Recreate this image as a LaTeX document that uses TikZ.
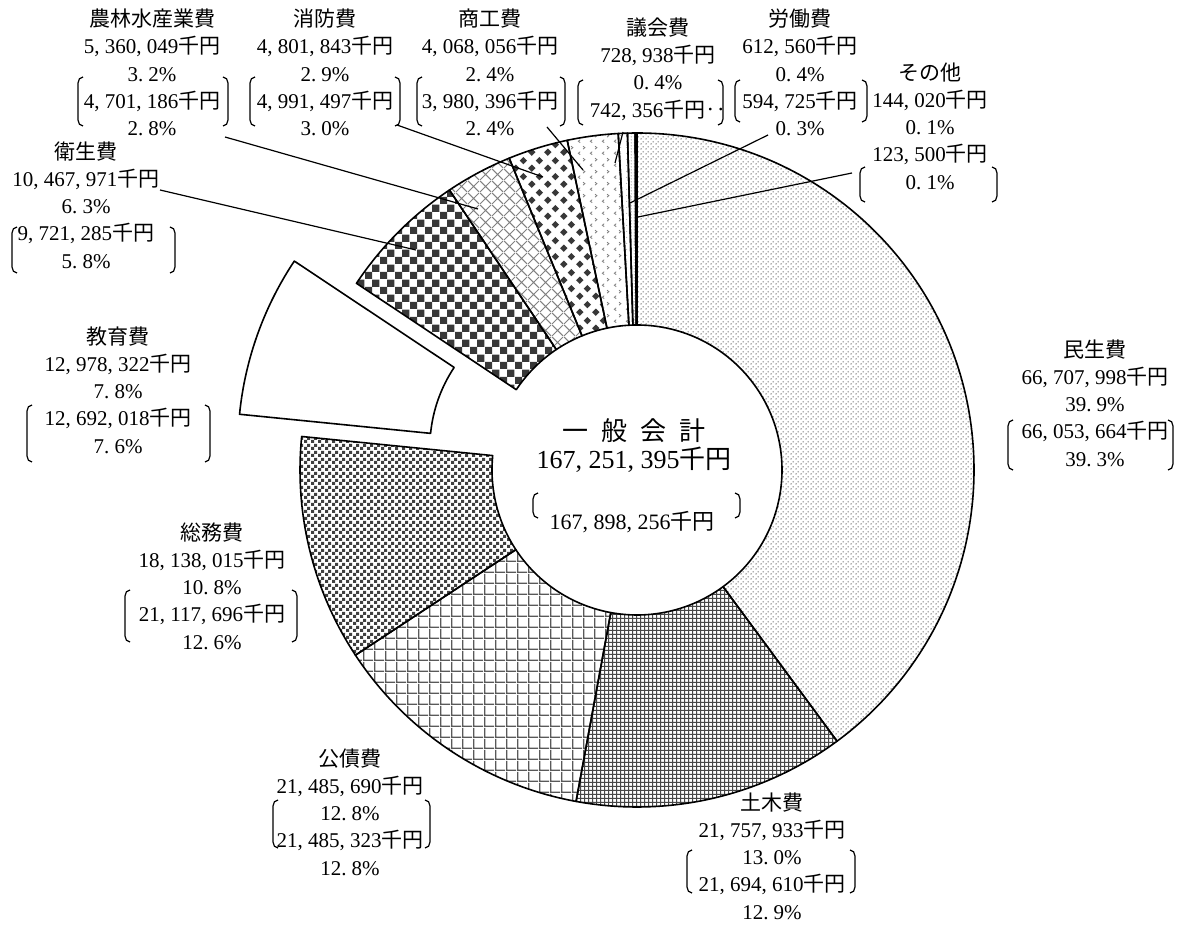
\documentclass[tikz,border=0pt]{standalone}
\usepackage{fontspec}
\setmainfont{Liberation Serif}
\newfontfamily\jp{Noto Sans CJK JP}
\usetikzlibrary{patterns}
\frenchspacing
\newcommand{\J}[1]{{\jp #1}}
% ---- patterns ----
\pgfdeclarepatternformonly{pminsei}{\pgfqpoint{0pt}{0pt}}{\pgfqpoint{5pt}{5pt}}{\pgfqpoint{5pt}{5pt}}{%
 \pgfpathcircle{\pgfqpoint{1.25pt}{1.25pt}}{0.85pt}%
 \pgfpathcircle{\pgfqpoint{3.75pt}{3.75pt}}{0.85pt}%
 \pgfusepath{fill}}
\pgfdeclarepatternformonly{pdoboku}{\pgfqpoint{0pt}{0pt}}{\pgfqpoint{4.4pt}{4.4pt}}{\pgfqpoint{4.4pt}{4.4pt}}{%
 \pgfpathrectangle{\pgfqpoint{0pt}{0pt}}{\pgfqpoint{4.4pt}{1.3pt}}%
 \pgfpathrectangle{\pgfqpoint{0pt}{0pt}}{\pgfqpoint{1.3pt}{4.4pt}}%
 \pgfusepath{fill}}
\pgfdeclarepatternformonly{pkousai}{\pgfqpoint{0pt}{0pt}}{\pgfqpoint{11pt}{11pt}}{\pgfqpoint{11pt}{11pt}}{%
 \pgfpathrectangle{\pgfqpoint{0pt}{0pt}}{\pgfqpoint{11pt}{1.5pt}}%
 \pgfpathrectangle{\pgfqpoint{0pt}{0pt}}{\pgfqpoint{1.5pt}{11pt}}%
 \pgfusepath{fill}}
\pgfdeclarepatternformonly{psoumu}{\pgfqpoint{0pt}{0pt}}{\pgfqpoint{6.6pt}{6.6pt}}{\pgfqpoint{6.6pt}{6.6pt}}{%
 \pgfpathrectangle{\pgfqpoint{0pt}{0pt}}{\pgfqpoint{3.3pt}{3.3pt}}%
 \pgfpathrectangle{\pgfqpoint{3.3pt}{3.3pt}}{\pgfqpoint{3.3pt}{3.3pt}}%
 \pgfusepath{fill}}
\pgfdeclarepatternformonly{peisei}{\pgfqpoint{0pt}{0pt}}{\pgfqpoint{14.6pt}{14.6pt}}{\pgfqpoint{14.6pt}{14.6pt}}{%
 \pgfpathrectangle{\pgfqpoint{0pt}{0pt}}{\pgfqpoint{7.3pt}{7.3pt}}%
 \pgfpathrectangle{\pgfqpoint{7.3pt}{7.3pt}}{\pgfqpoint{7.3pt}{7.3pt}}%
 \pgfusepath{fill}}
\pgfdeclarepatternformonly{pnourin}{\pgfqpoint{0pt}{0pt}}{\pgfqpoint{12pt}{12pt}}{\pgfqpoint{12pt}{12pt}}{%
 \pgfsetlinewidth{1pt}%
 \pgfpathmoveto{\pgfqpoint{0pt}{0pt}}\pgfpathlineto{\pgfqpoint{12pt}{12pt}}%
 \pgfpathmoveto{\pgfqpoint{0pt}{12pt}}\pgfpathlineto{\pgfqpoint{12pt}{0pt}}%
 \pgfusepath{stroke}}
\pgfdeclarepatternformonly{pshoubou}{\pgfqpoint{0pt}{0pt}}{\pgfqpoint{16pt}{16pt}}{\pgfqpoint{16pt}{16pt}}{%
 \pgfpathcircle{\pgfqpoint{4pt}{4pt}}{2.8pt}%
 \pgfpathmoveto{\pgfqpoint{7.9pt}{4pt}}\pgfpathlineto{\pgfqpoint{4pt}{7.9pt}}\pgfpathlineto{\pgfqpoint{0.1pt}{4pt}}\pgfpathlineto{\pgfqpoint{4pt}{0.1pt}}\pgfpathclose
 \pgfpathcircle{\pgfqpoint{12pt}{12pt}}{2.8pt}%
 \pgfpathmoveto{\pgfqpoint{15.9pt}{12pt}}\pgfpathlineto{\pgfqpoint{12pt}{15.9pt}}\pgfpathlineto{\pgfqpoint{8.1pt}{12pt}}\pgfpathlineto{\pgfqpoint{12pt}{8.1pt}}\pgfpathclose
 \pgfusepath{fill}}
\pgfdeclarepatternformonly{pshoukou}{\pgfqpoint{0pt}{0pt}}{\pgfqpoint{12pt}{12pt}}{\pgfqpoint{12pt}{12pt}}{%
 \pgfsetlinewidth{0.9pt}%
 \pgfpathmoveto{\pgfqpoint{4.5pt}{4.6pt}}\pgfpathlineto{\pgfqpoint{2.5pt}{3pt}}\pgfpathlineto{\pgfqpoint{4.5pt}{1.4pt}}%
 \pgfpathmoveto{\pgfqpoint{7.5pt}{10.6pt}}\pgfpathlineto{\pgfqpoint{9.5pt}{9pt}}\pgfpathlineto{\pgfqpoint{7.5pt}{7.4pt}}%
 \pgfusepath{stroke}}
\pgfdeclarepatternformonly{pgikai}{\pgfqpoint{0pt}{0pt}}{\pgfqpoint{6pt}{6pt}}{\pgfqpoint{6pt}{6pt}}{%
 \pgfpathcircle{\pgfqpoint{3pt}{3pt}}{0.55pt}\pgfusepath{fill}}
\pgfdeclarepatternformonly{proudou}{\pgfqpoint{0pt}{0pt}}{\pgfqpoint{3pt}{3pt}}{\pgfqpoint{3pt}{3pt}}{%
 \pgfpathcircle{\pgfqpoint{1.5pt}{1.5pt}}{0.65pt}\pgfusepath{fill}}
% ---- helpers ----
\newcommand{\dslice}[4]{\path[shift={#1},#4] (#2:337) arc[start angle=#2,end angle=#3,radius=337] -- (#3:145) arc[start angle=#3,end angle=#2,radius=145] -- cycle;}
\newcommand{\brk}[4]{% xL xR ytop ybot (image coords)
 \draw[brkline] (#1+5,924-#3) to[out=180,in=90] (#1,924-#3-6) -- (#1,924-#4+6) to[out=-90,in=180] (#1+5,924-#4);
 \draw[brkline] (#2-5,924-#3) to[out=0,in=90] (#2,924-#3-6) -- (#2,924-#4+6) to[out=-90,in=0] (#2-5,924-#4);}
\begin{document}
\begin{tikzpicture}[x=1pt,y=1pt,
  sl/.style={draw=black,line width=1.6pt,line join=round},
  lbl/.style={font=\fontsize{21}{27.3}\selectfont,align=center,inner sep=0pt},
  big/.style={font=\fontsize{26}{28}\selectfont,align=center,inner sep=0pt},
  brkline/.style={line width=1.2pt},
  leader/.style={line width=1.2pt}]
\useasboundingbox (0,0) rectangle (1180,924);
\fill[white] (0,0) rectangle (1180,924);
% ---- donut ----
\dslice{(637,454)}{90}{-53.586}{sl,pattern=pminsei,pattern color=black!62}
\dslice{(637,454)}{-53.586}{-100.419}{sl,pattern=pdoboku,pattern color=black!72}
\dslice{(637,454)}{-100.419}{-146.666}{sl,pattern=pkousai,pattern color=black!65}
\dslice{(637,454)}{-146.666}{-185.707}{sl,pattern=psoumu,pattern color=black!75}
\dslice{(574.85,476.22)}{-185.707}{-213.642}{sl,fill=white}
\dslice{(637,454)}{-213.642}{-236.174}{sl,pattern=peisei,pattern color=black!78}
\dslice{(637,454)}{-236.174}{-247.711}{sl,pattern=pnourin,pattern color=black!50}
\dslice{(637,454)}{-247.711}{-258.047}{sl,pattern=pshoubou,pattern color=black!78}
\dslice{(637,454)}{-258.047}{-266.803}{sl,pattern=pshoukou,pattern color=black!50}
\dslice{(637,454)}{-266.803}{-268.372}{sl,pattern=pgikai,pattern color=black!40}
\dslice{(637,454)}{-268.372}{-269.690}{sl,pattern=proudou,pattern color=black!60}
\dslice{(637,454)}{-269.690}{-270}{sl,fill=black}
% ---- centre ----
\node[big] (total) at (634,478) {\J{一\hspace{.5em}般\hspace{.5em}会\hspace{.5em}計}\\167, 251, 395\J{千円}};
\node[lbl,font=\fontsize{22}{27}\selectfont] (prevtotal) at (632,402) {167, 898, 256\J{千円}};
\brk{533}{740}{493}{518}
% ---- labels ----
\node[lbl] (nourin) at (152,851.5) {\J{農林水産業費}\\5, 360, 049\J{千円}\\3. 2\%\\4, 701, 186\J{千円}\\2. 8\%};
\brk{78}{228}{77}{126}
\node[lbl] (shoubou) at (325,851.5) {\J{消防費}\\4, 801, 843\J{千円}\\2. 9\%\\4, 991, 497\J{千円}\\3. 0\%};
\brk{250}{400}{77}{126}
\node[lbl] (shoukou) at (490,851.5) {\J{商工費}\\4, 068, 056\J{千円}\\2. 4\%\\3, 980, 396\J{千円}\\2. 4\%};
\brk{417}{565}{77}{126}
\node[lbl] (gikai) at (658,855) {\J{議会費}\\728, 938\J{千円}\\0. 4\%\\742, 356\J{千円‥}};
\brk{578}{723}{80}{125}
\node[lbl] (roudou) at (800,851.5) {\J{労働費}\\612, 560\J{千円}\\0. 4\%\\594, 725\J{千円}\\0. 3\%};
\brk{735}{867}{80}{122}
\node[lbl] (sonota) at (930,798) {\J{その他}\\144, 020\J{千円}\\0. 1\%\\123, 500\J{千円}\\0. 1\%};
\brk{860}{997}{167}{202}
\node[lbl] (eisei) at (86,719) {\J{衛生費}\\10, 467, 971\J{千円}\\6. 3\%\\9, 721, 285\J{千円}\\5. 8\%};
\brk{12}{175}{227}{273}
\node[lbl] (kyouiku) at (118,534) {\J{教育費}\\12, 978, 322\J{千円}\\7. 8\%\\12, 692, 018\J{千円}\\7. 6\%};
\brk{27}{210}{405}{462}
\node[lbl] (soumu) at (212,338) {\J{総務費}\\18, 138, 015\J{千円}\\10. 8\%\\21, 117, 696\J{千円}\\12. 6\%};
\brk{125}{297}{590}{642}
\node[lbl] (kousai) at (350,112) {\J{公債費}\\21, 485, 690\J{千円}\\12. 8\%\\21, 485, 323\J{千円}\\12. 8\%};
\brk{273}{430}{800}{848}
\node[lbl] (doboku) at (772,68) {\J{土木費}\\21, 757, 933\J{千円}\\13. 0\%\\21, 694, 610\J{千円}\\12. 9\%};
\brk{687}{855}{850}{893}
\node[lbl] (minsei) at (1095,521) {\J{民生費}\\66, 707, 998\J{千円}\\39. 9\%\\66, 053, 664\J{千円}\\39. 3\%};
\brk{1008}{1173}{420}{470}
% ---- leaders ----
\coordinate (nourinA) at (225,787); \coordinate (nourinB) at (478,715);
\coordinate (shoubouA) at (397,799); \coordinate (shoubouB) at (543,747);
\coordinate (shoukouA) at (547,797); \coordinate (shoukouB) at (583,754);
\coordinate (gikaiA) at (623,792); \coordinate (gikaiB) at (615,761);
\coordinate (roudouA) at (768,789); \coordinate (roudouB) at (630,721);
\coordinate (sonotaA) at (852,751); \coordinate (sonotaB) at (638,707);
\coordinate (eiseiA) at (160,734); \coordinate (eiseiB) at (416,674);
\draw[leader] (nourinA) -- (nourinB);
\draw[leader] (shoubouA) -- (shoubouB);
\draw[leader] (shoukouA) -- (shoukouB);
\draw[leader] (gikaiA) -- (gikaiB);
\draw[leader] (roudouA) -- (roudouB);
\draw[leader] (sonotaA) -- (sonotaB);
\draw[leader] (eiseiA) -- (eiseiB);
\end{tikzpicture}
\end{document}
